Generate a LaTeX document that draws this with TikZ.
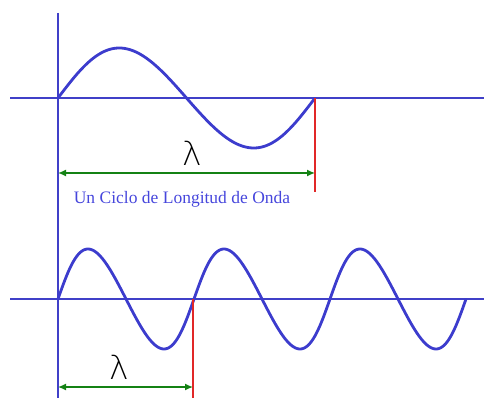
\documentclass[tikz,border=0pt]{standalone}
\usepackage{fontspec}
\setmainfont{Liberation Serif}
\newfontfamily\lamfont{DejaVu Sans ExtraLight}
\usetikzlibrary{arrows.meta}
\definecolor{axblue}{RGB}{64,64,200}
\definecolor{wvblue}{RGB}{60,60,205}
\definecolor{arrgreen}{RGB}{20,130,20}
\definecolor{mkred}{RGB}{225,40,40}
\definecolor{txblue}{RGB}{70,70,220}
\tikzset{
  axis/.style={axblue, line width=1.3pt},
  wave/.style={wvblue, line width=2.8pt, line cap=round, line join=round},
  marker/.style={mkred, line width=1.3pt},
  span/.style={arrgreen, line width=1.4pt, {Latex[length=8pt,width=7pt]}-{Latex[length=8pt,width=7pt]}},
  lam/.style={font=\lamfont\fontsize{33}{33}\selectfont, inner sep=0pt}
}
\begin{document}
\begin{tikzpicture}[x=1pt,y=-1pt]
\useasboundingbox (0,0) rectangle (484,403);
% axes
\coordinate (vtop) at (58,13);
\coordinate (vbot) at (58,398);
\coordinate (t0) at (10,98);
\coordinate (t1) at (484,98);
\coordinate (b0) at (10,299);
\coordinate (b1) at (484,299);
\draw[axis] (vtop) -- (vbot);
\draw[axis] (t0) -- (t1);
\draw[axis] (b0) -- (b1);
% waves
\draw[wave] plot[domain=0:1, samples=120, smooth] ({58+257*\x-3*sin(360*\x)}, {98 - 50*sin(360*\x)});
\draw[wave] plot[domain=0:3, samples=240, smooth] ({58+136*\x-4*sin(360*\x)}, {299 - 50*sin(360*\x)});
% red markers
\coordinate (r1a) at (315,98);
\coordinate (r1b) at (315,192);
\coordinate (r2a) at (193,299);
\coordinate (r2b) at (193,398);
\draw[marker] (r1a) -- (r1b);
\draw[marker] (r2a) -- (r2b);
% green spans
\coordinate (g1a) at (58,173);
\coordinate (g1b) at (315,173);
\coordinate (g2a) at (58,387);
\coordinate (g2b) at (193,387);
\draw[span] (g1a) -- (g1b);
\draw[span] (g2a) -- (g2b);
% labels
\node[lam] (lam1) at (192,153) {λ};
\node[lam] (lam2) at (119,367) {λ};
\node[txblue, inner sep=0pt, anchor=base, font=\fontsize{17.5}{19}\selectfont] (cap) at (182,204) {Un Ciclo de Longitud de Onda};
\end{tikzpicture}
\end{document}
